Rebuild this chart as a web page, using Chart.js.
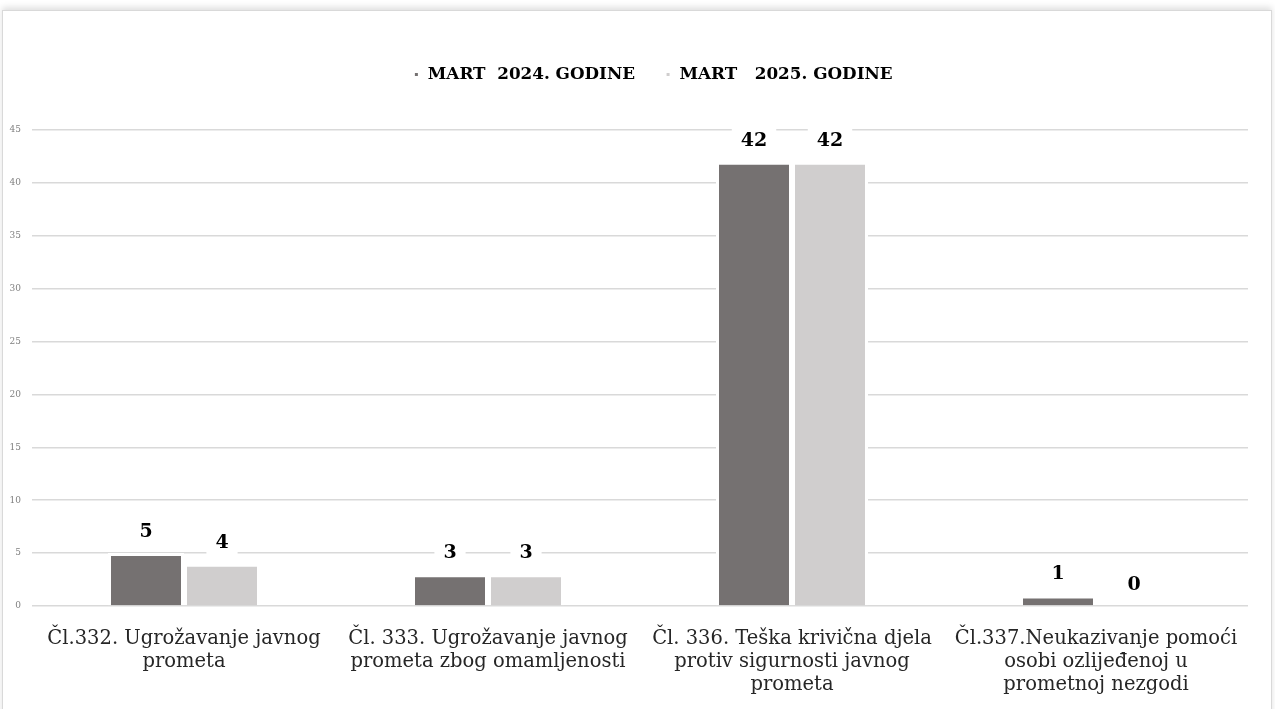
<!DOCTYPE html>
<html lang="hr">
<head>
    <meta charset="UTF-8">
    <title>Krivična djela - mart 2024/2025</title>
    <script src="https://cdn.jsdelivr.net/npm/chart.js"></script>
    <style>
        html, body { margin: 0; padding: 0; background: #fff; overflow: hidden; }
        #frame {
            position: absolute; left: 2px; top: 10px; width: 1268px; height: 720px;
            border: 1px solid #d9d9d9;
            box-shadow: 0 -3px 6px rgba(0,0,0,0.12);
        }
        #wrap { position: absolute; left: 0; top: 0; width: 1275px; height: 709px; }
    </style>
</head>
<body>
    <div id="frame"></div>
    <div id="wrap"><canvas id="barChart"></canvas></div>

    <script>
        // categories (x-axis, multi-line)
        const categories = [
            ['Čl.332. Ugrožavanje javnog', 'prometa'],
            ['Čl. 333. Ugrožavanje javnog', 'prometa zbog omamljenosti'],
            ['Čl. 336. Teška krivična djela', 'protiv sigurnosti javnog', 'prometa'],
            ['Čl.337.Neukazivanje pomoći', 'osobi ozlijeđenoj u', 'prometnoj nezgodi']
        ];
        const series2024 = [5, 3, 42, 1];
        const series2025 = [4, 3, 42, 0];
        const seriesNames = ['MART  2024. GODINE', 'MART   2025. GODINE'];

        const serif = "'DejaVu Serif', serif";

        // value labels on white boxes above bars
        const valueLabels = {
            id: 'valueLabels',
            afterDatasetsDraw(chart) {
                const ctx = chart.ctx;
                ctx.save();
                ctx.font = 'bold 19px ' + serif;
                ctx.textAlign = 'center';
                ctx.textBaseline = 'middle';
                chart.data.datasets.forEach((ds, i) => {
                    chart.getDatasetMeta(i).data.forEach((bar, j) => {
                        const txt = String(ds.data[j]);
                        const y = bar.y - 21;
                        const w = ctx.measureText(txt).width + 18;
                        ctx.fillStyle = '#fff';
                        ctx.fillRect(bar.x - w / 2, y - 12, w, 24);
                        ctx.fillStyle = '#000';
                        ctx.fillText(txt, bar.x, y);
                    });
                });
                ctx.restore();
            }
        };

        // fixed legend height, legend nudged right like the original
        const legendTweak = {
            id: 'legendTweak',
            beforeInit(chart) {
                const fit = chart.legend.fit;
                chart.legend.fit = function () {
                    fit.bind(chart.legend)();
                    this.height = 94;
                };
            },
            afterLayout(chart) {
                chart.legend.left += 29;
                chart.legend.right += 29;
            }
        };

        new Chart(document.getElementById('barChart'), {
            type: 'bar',
            data: {
                labels: categories,
                datasets: [{
                    label: seriesNames[0],
                    data: series2024,
                    backgroundColor: '#757171',
                    borderColor: '#ffffff',
                    borderWidth: 3
                }, {
                    label: seriesNames[1],
                    data: series2025,
                    backgroundColor: '#d0cece',
                    borderColor: '#ffffff',
                    borderWidth: 3
                }]
            },
            options: {
                responsive: true,
                maintainAspectRatio: false,
                animation: false,
                datasets: { bar: { categoryPercentage: 0.5, barPercentage: 1.0 } },
                layout: { padding: { left: 0, right: 27, top: 36, bottom: 0 } },
                plugins: {
                    legend: {
                        position: 'top',
                        labels: {
                            boxWidth: 6, boxHeight: 6,
                            color: '#000',
                            padding: 30,
                            font: { family: serif, size: 16.8, weight: 'bold' }
                        }
                    },
                    tooltip: { enabled: false }
                },
                scales: {
                    x: {
                        grid: { display: false },
                        border: { display: false },
                        ticks: {
                            color: '#262626', padding: 13, maxRotation: 0, autoSkip: false,
                            font: { family: serif, size: 19.5, lineHeight: 1.18 }
                        }
                    },
                    y: {
                        min: 0, max: 45,
                        afterFit(scale) { scale.width = 32; },
                        grid: { color: '#d9d9d9', lineWidth: 1.5, drawTicks: false },
                        border: { display: false },
                        ticks: {
                            stepSize: 5, color: '#7f7f7f', padding: 11,
                            font: { family: serif, size: 9 }
                        }
                    }
                }
            },
            plugins: [valueLabels, legendTweak]
        });
    </script>
</body>
</html>
